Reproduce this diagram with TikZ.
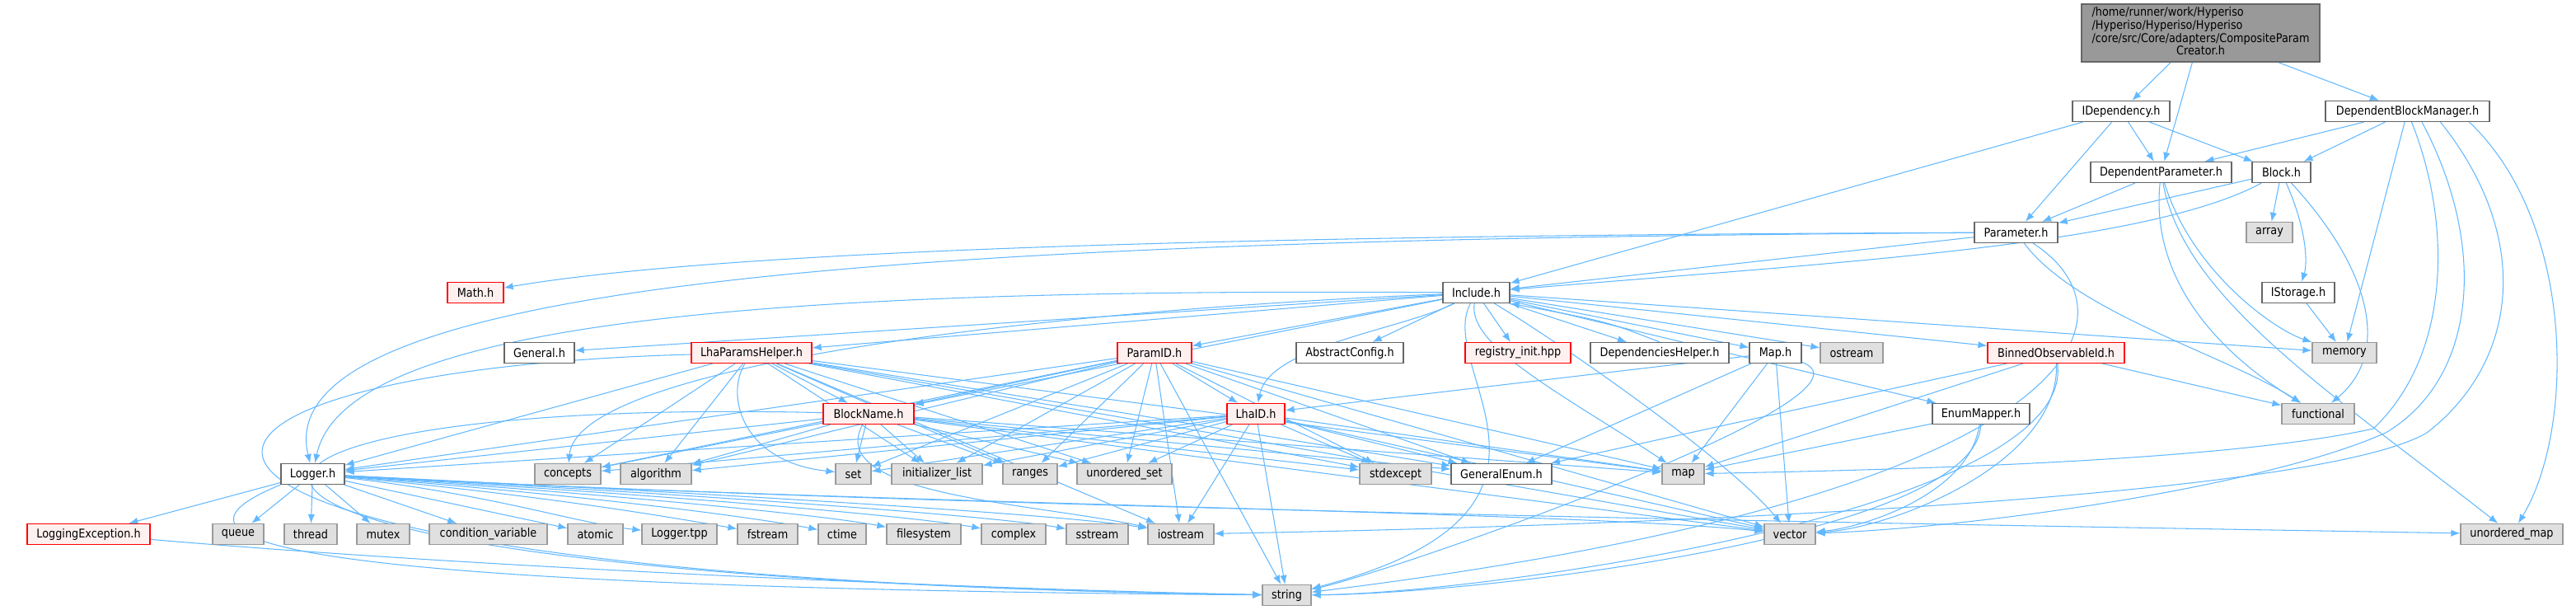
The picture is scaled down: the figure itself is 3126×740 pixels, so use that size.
\documentclass[tikz,border=0pt]{standalone}
\usepackage{fontspec}
\setmainfont{DejaVu Sans}[FakeStretch=0.88]
\usetikzlibrary{arrows.meta}
\definecolor{edgeblue}{HTML}{63B8FF}
\definecolor{sysfill}{HTML}{E0E0E0}
\definecolor{sysline}{HTML}{999999}
\definecolor{hdrline}{HTML}{666666}
\definecolor{incfill}{HTML}{FFF0F0}
\definecolor{incline}{HTML}{FF0000}
\definecolor{mainfill}{HTML}{999999}
\pgfdeclarelayer{edges}
\pgfsetlayers{edges,main}
\tikzset{
  box/.style={rectangle, inner sep=0pt, minimum height=0.5cm, line width=0.7pt,
    font=\fontsize{8.3}{8.6}\selectfont},
  hdr/.style={box, draw=hdrline, fill=white},
  sys/.style={box, draw=sysline, fill=sysfill},
  trunc/.style={box, draw=incline, fill=incfill},
  dep/.style={draw=edgeblue, line width=0.6pt, -{Latex[length=2.2mm,width=1.7mm]}}
}
\begin{document}
\begin{tikzpicture}[x=0.02cm, y=-0.02cm]
		\useasboundingbox (0,0) rectangle (3126,740);
		\node[box, draw=hdrline, fill=mainfill, minimum width=5.78cm, minimum height=1.4cm] (cpc) at (2670.5,40) {\begin{tabular}{@{}l@{}}/home/runner/work/Hyperiso\\/Hyperiso/Hyperiso/Hyperiso\\/core/src/Core/adapters/CompositeParam\\\multicolumn{1}{@{}c@{}}{Creator.h}\end{tabular}};
		\node[hdr, minimum width=2.36cm] (idep) at (2574,135) {IDependency.h};
		\node[hdr, minimum width=3.98cm] (dbm) at (2921.5,135) {DependentBlockManager.h};
		\node[hdr, minimum width=3.42cm] (dpar) at (2622.5,209) {DependentParameter.h};
		\node[hdr, minimum width=1.42cm] (blk) at (2768.5,209) {Block.h};
		\node[hdr, minimum width=2.02cm] (par) at (2446.5,282) {Parameter.h};
		\node[sys, minimum width=1.12cm] (arr) at (2754,282) {array};
		\node[hdr, minimum width=1.62cm] (inc) at (1791.5,355) {Include.h};
		\node[trunc, minimum width=1.36cm] (mth) at (577,355) {Math.h};
		\node[hdr, minimum width=1.76cm] (ist) at (2789,355) {IStorage.h};
		\node[hdr, minimum width=1.70cm] (gen) at (654.5,428) {General.h};
		\node[trunc, minimum width=2.92cm] (lph) at (912,428) {LhaParamsHelper.h};
		\node[trunc, minimum width=1.80cm] (pid) at (1401,428) {ParamID.h};
		\node[hdr, minimum width=2.60cm] (acf) at (1638,428) {AbstractConfig.h};
		\node[trunc, minimum width=2.56cm] (reg) at (1842,428) {registry\_init.hpp};
		\node[hdr, minimum width=3.36cm] (dhl) at (2014,428) {DependenciesHelper.h};
		\node[hdr, minimum width=1.26cm] (mph) at (2154.5,428) {Map.h};
		\node[sys, minimum width=1.52cm] (ost) at (2247,428) {ostream};
		\node[trunc, minimum width=3.32cm] (bob) at (2495,428) {BinnedObservableId.h};
		\node[sys, minimum width=1.56cm] (mem) at (2845,428) {memory};
		\node[trunc, minimum width=2.20cm] (bnm) at (1054,502) {BlockName.h};
		\node[trunc, minimum width=1.40cm] (lid) at (1524,502) {LhaID.h};
		\node[hdr, minimum width=2.36cm] (emp) at (2404,502) {EnumMapper.h};
		\node[sys, minimum width=1.76cm] (fnc) at (2813,502) {functional};
		\node[hdr, minimum width=1.54cm] (lg) at (379.5,575) {Logger.h};
		\node[sys, minimum width=1.60cm] (cpt) at (689,575) {concepts};
		\node[sys, minimum width=1.72cm] (alg) at (796,575) {algorithm};
		\node[sys, minimum width=0.86cm] (stdset) at (1035.5,575) {set};
		\node[sys, minimum width=2.20cm] (ini) at (1137,575) {initializer\_list};
		\node[sys, minimum width=1.32cm] (rng) at (1250,575) {ranges};
		\node[sys, minimum width=2.30cm] (uset) at (1364.5,575) {unordered\_set};
		\node[sys, minimum width=1.74cm] (stx) at (1693.5,575) {stdexcept};
		\node[hdr, minimum width=2.44cm] (genum) at (1822,575) {GeneralEnum.h};
		\node[sys, minimum width=1.02cm] (mp) at (2042.5,575) {map};
		\node[trunc, minimum width=2.98cm] (lex) at (107.5,648) {LoggingException.h};
		\node[sys, minimum width=1.24cm] (que) at (289,648) {queue};
		\node[sys, minimum width=1.28cm] (thr) at (377,648) {thread};
		\node[sys, minimum width=1.28cm] (mtx) at (465,648) {mutex};
		\node[sys, minimum width=2.86cm] (cvr) at (592.5,648) {condition\_variable};
		\node[sys, minimum width=1.34cm] (atm) at (722.5,648) {atomic};
		\node[sys, minimum width=1.82cm] (ltp) at (824.5,648) {Logger.tpp};
		\node[sys, minimum width=1.46cm] (fst) at (931.5,648) {fstream};
		\node[sys, minimum width=1.16cm] (ctm) at (1022,648) {ctime};
		\node[sys, minimum width=1.80cm] (fsy) at (1121,648) {filesystem};
		\node[sys, minimum width=1.56cm] (cpx) at (1230,648) {complex};
		\node[sys, minimum width=1.50cm] (sst) at (1331.5,648) {sstream};
		\node[sys, minimum width=1.60cm] (ios) at (1433,648) {iostream};
		\node[sys, minimum width=1.24cm] (vec) at (2172,648) {vector};
		\node[sys, minimum width=2.48cm] (umap) at (3048,648) {unordered\_map};
		\node[sys, minimum width=1.18cm] (str) at (1561.5,722) {string};
		\begin{pgfonlayer}{edges}
		\draw[dep] (cpc) -- (idep);
		\draw[dep] (cpc) -- (dpar);
		\draw[dep] (cpc) -- (dbm);
		\draw[dep] (idep) -- (inc);
		\draw[dep] (idep) -- (par);
		\draw[dep] (idep) -- (dpar);
		\draw[dep] (idep) -- (blk);
		\draw[dep] (dbm) -- (dpar);
		\draw[dep] (dbm) -- (blk);
		\draw[dep] (dbm) -- (mem);
		\draw[dep] ([xshift=0.1cm]dbm.south) .. controls (2975,270) and (2975,430) .. (2880,520) .. controls (2700,560) and (2300,570) .. (mp);
		\draw[dep] ([xshift=0.35cm]dbm.south) .. controls (3020,300) and (3005,460) .. (2895,525) .. controls (2750,590) and (2400,640) .. (vec);
		\draw[dep] ([xshift=0.8cm]dbm.south) .. controls (3075,290) and (3055,440) .. (2945,525) .. controls (2800,610) and (1900,640) .. (ios);
		\draw[dep] ([xshift=1.5cm]dbm.south) .. controls (3125,270) and (3125,520) .. (umap);
		\draw[dep] (blk) -- (par);
		\draw[dep] (blk) .. controls (2600,300) and (2200,320) .. (inc);
		\draw[dep] (blk) -- (arr);
		\draw[dep] (blk) .. controls (2800,280) and (2800,320) .. (ist);
		\draw[dep] (blk) .. controls (2880,330) and (2900,430) .. (fnc);
		\draw[dep] (ist) -- (mem);
		\draw[dep] (dpar) -- (par);
		\draw[dep] (dpar) .. controls (2610,330) and (2680,420) .. (fnc);
		\draw[dep] (dpar) .. controls (2650,360) and (2820,470) .. (umap);
		\draw[dep] (dpar) .. controls (2660,330) and (2760,400) .. (mem);
		\draw[dep] (par) -- (inc);
		\draw[dep] (par) .. controls (1600,285) and (900,300) .. (mth);
		\draw[dep] (par) .. controls (1200,290) and (320,330) .. (lg);
		\draw[dep] (par) .. controls (2520,380) and (2700,430) .. (fnc);
		\draw[dep] (par) .. controls (2600,380) and (2550,600) .. (str);
		\draw[dep] (inc) -- (gen);
		\draw[dep] (inc) -- (lph);
		\draw[dep] (inc) -- (pid);
		\draw[dep] (inc) -- (acf);
		\draw[dep] (inc) -- (reg);
		\draw[dep] (inc) -- (dhl);
		\draw[dep] (dhl.north) .. controls (1950,390) .. (inc.south east);
		\draw[dep] (inc) -- (mph);
		\draw[dep] (inc) -- (ost);
		\draw[dep] (inc) -- (bob);
		\draw[dep] (inc) -- (mem);
		\draw[dep] (inc) -- (emp);
		\draw[dep] (inc) .. controls (1000,350) and (420,380) .. (lg);
		\draw[dep] (inc) -- (bnm);
		\draw[dep] (inc) .. controls (1700,400) and (1540,420) .. (lid);
		\draw[dep] (inc) .. controls (1780,420) and (1900,480) .. (mp);
		\draw[dep] (inc) .. controls (1900,420) and (2100,560) .. (vec);
		\draw[dep] (inc) .. controls (1740,450) and (1950,620) .. (str);
		\draw[dep] (inc) .. controls (1200,380) and (700,450) .. (cpt);
		\draw[dep] (mph) -- (lid);
		\draw[dep] (mph) -- (genum);
		\draw[dep] (mph) -- (mp);
		\draw[dep] (mph) -- (vec);
		\draw[dep] (mph) .. controls (2300,480) and (1700,690) .. (str);
		\draw[dep] (bob) -- (fnc);
		\draw[dep] (bob) -- (genum);
		\draw[dep] (bob) -- (mp);
		\draw[dep] (bob) .. controls (2500,560) and (2300,640) .. (vec);
		\draw[dep] (bob) .. controls (2520,620) and (1800,720) .. (str);
		\draw[dep] (emp) -- (mp);
		\draw[dep] (emp) .. controls (2390,600) and (2260,640) .. (vec);
		\draw[dep] (emp) .. controls (2400,650) and (1800,720) .. (str);
		\draw[dep] (lph) -- (bnm);
		\draw[dep] (lph) .. controls (880,480) and (900,560) .. (stdset);
		\draw[dep] (lph) -- (ini);
		\draw[dep] (lph) -- (rng);
		\draw[dep] (lph) -- (uset);
		\draw[dep] (lph) -- (alg);
		\draw[dep] (lph) -- (cpt);
		\draw[dep] (lph) -- (lg);
		\draw[dep] (lph) -- (genum);
		\draw[dep] (lph) -- (stx);
		\draw[dep] (lph) -- (mp);
		\draw[dep] (lph) -- (vec);
		\draw[dep] (lph) -- (ios);
		\draw[dep] (lph) .. controls (100,450) and (0,700) .. (str);
		\draw[dep] (pid) -- (bnm);
		\draw[dep] (pid) -- (lid);
		\draw[dep] (pid) -- (stdset);
		\draw[dep] (pid) -- (ini);
		\draw[dep] (pid) -- (rng);
		\draw[dep] (pid) -- (uset);
		\draw[dep] (pid) -- (ios);
		\draw[dep] (pid) -- (alg);
		\draw[dep] (pid) -- (cpt);
		\draw[dep] (pid) -- (lg);
		\draw[dep] (pid) -- (genum);
		\draw[dep] (pid) -- (stx);
		\draw[dep] (pid) -- (mp);
		\draw[dep] (pid) -- (vec);
		\draw[dep] (pid) -- (str);
		\draw[dep] (bnm) -- (stdset);
		\draw[dep] (bnm) -- (ini);
		\draw[dep] (bnm) -- (rng);
		\draw[dep] (bnm) -- (uset);
		\draw[dep] (bnm) -- (alg);
		\draw[dep] (bnm) -- (cpt);
		\draw[dep] (bnm) -- (lg);
		\draw[dep] (bnm) -- (genum);
		\draw[dep] (bnm) -- (stx);
		\draw[dep] (bnm) -- (mp);
		\draw[dep] (bnm) .. controls (1000,600) and (1250,610) .. (ios);
		\draw[dep] (bnm) -- (vec);
		\draw[dep] (bnm) .. controls (150,480) and (30,700) .. (str);
		\draw[dep] (lid) -- (stdset);
		\draw[dep] (lid) -- (ini);
		\draw[dep] (lid) -- (rng);
		\draw[dep] (lid) -- (uset);
		\draw[dep] (lid) -- (alg);
		\draw[dep] (lid) -- (cpt);
		\draw[dep] (lid) -- (lg);
		\draw[dep] (lid) -- (stx);
		\draw[dep] (lid) -- (genum);
		\draw[dep] (lid) -- (mp);
		\draw[dep] (lid) -- (ios);
		\draw[dep] (lid) -- (str);
		\draw[dep] (lid) -- (vec);
		\draw[dep] (lg) -- (lex);
		\draw[dep] (lg) -- (que);
		\draw[dep] (lg) -- (thr);
		\draw[dep] (lg) -- (mtx);
		\draw[dep] (lg) -- (cvr);
		\draw[dep] (lg) -- (atm);
		\draw[dep] (lg) .. controls (600,600) and (700,635) .. (ltp);
		\draw[dep] (lg) .. controls (650,600) and (800,625) .. (fst);
		\draw[dep] (lg) .. controls (700,600) and (900,625) .. (ctm);
		\draw[dep] (lg) .. controls (750,600) and (1000,625) .. (fsy);
		\draw[dep] (lg) .. controls (800,600) and (1100,625) .. (cpx);
		\draw[dep] (lg) .. controls (850,600) and (1200,625) .. (sst);
		\draw[dep] (lg) .. controls (900,600) and (1300,625) .. (ios);
		\draw[dep] (lg.south west) .. controls (190,650) and (260,712) .. (str);
		\draw[dep] (lg) .. controls (1000,610) and (1900,620) .. (vec);
		\draw[dep] (lg) .. controls (1200,620) and (2600,640) .. (umap);
		\draw[dep] (lex) .. controls (600,690) and (1200,715) .. (str);
		\end{pgfonlayer}
	\end{tikzpicture}
\end{document}
